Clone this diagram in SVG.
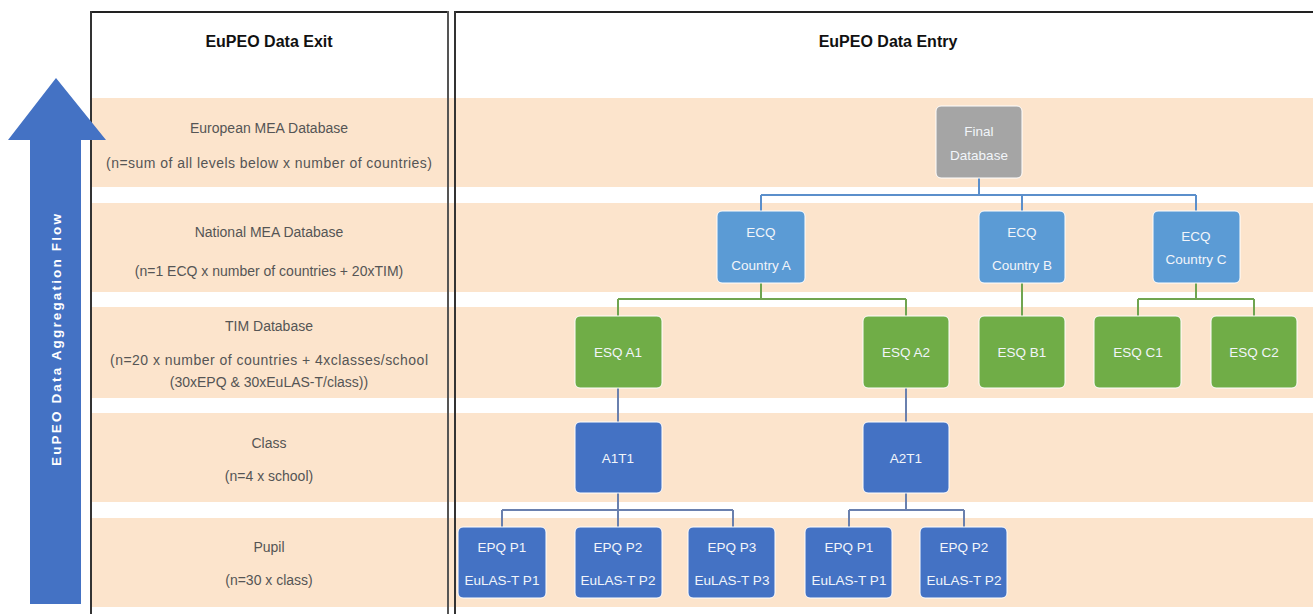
<svg xmlns="http://www.w3.org/2000/svg" width="1313" height="614" viewBox="0 0 1313 614">
<defs>
<style>
.band{fill:#FCE4CC}
.hdr{font-family:"Liberation Sans",Arial,sans-serif;font-size:16px;font-weight:bold;fill:#111;text-anchor:middle}
.lbl{font-family:"Liberation Sans",Arial,sans-serif;font-size:14px;fill:#555;text-anchor:middle}
.nt{font-family:"Liberation Sans",Arial,sans-serif;font-size:13.5px;fill:#F2F5FA;text-anchor:middle}
.gray{fill:#A5A5A5;stroke:#fff;stroke-width:1}
.lblue{fill:#5B9BD5;stroke:#fff;stroke-width:1}
.dblue{fill:#4472C4;stroke:#fff;stroke-width:1}
.green{fill:#70AD47;stroke:#fff;stroke-width:1}
.cb{fill:none;stroke:#5B8FCB;stroke-width:2}
.cg{fill:none;stroke:#70A550;stroke-width:2}
.cd{fill:none;stroke:#6A80AE;stroke-width:2}
</style>
</defs>
<rect x="0" y="0" width="1313" height="614" fill="#fff"/>
<g id="bands">
<rect class="band" x="91" y="98" width="1222" height="89"/>
<rect class="band" x="91" y="203" width="1222" height="89"/>
<rect class="band" x="91" y="307" width="1222" height="91"/>
<rect class="band" x="91" y="413" width="1222" height="89"/>
<rect class="band" x="91" y="518" width="1222" height="89"/>
</g>
<g id="table-lines">
<line x1="91" y1="12" x2="448" y2="12" stroke="#222" stroke-width="2"/>
<line x1="455" y1="12" x2="1313" y2="12" stroke="#222" stroke-width="2"/>
<line x1="91" y1="11" x2="91" y2="614" stroke="#333" stroke-width="2"/>
<line x1="448" y1="11" x2="448" y2="614" stroke="#555" stroke-width="2"/>
<line x1="455" y1="11" x2="455" y2="614" stroke="#333" stroke-width="2"/>
</g>
<g id="arrow">
<polygon points="56,78 106,140 81,140 81,604 30,604 30,140 8,140" fill="#4472C4"/>
<text x="0" y="0" transform="translate(61,340) rotate(-90)" font-family="Liberation Sans,Arial,sans-serif" font-size="13.5" font-weight="bold" fill="#fff" text-anchor="middle" textLength="252" lengthAdjust="spacing">EuPEO Data Aggregation Flow</text>
</g>
<g id="headers">
<text class="hdr" x="269" y="47">EuPEO Data Exit</text>
<text class="hdr" x="888" y="47">EuPEO Data Entry</text>
</g>
<g id="levels">
<text class="lbl" x="269" y="133">European MEA Database</text>
<text class="lbl" x="269" y="168" textLength="326" lengthAdjust="spacing">(n=sum of all levels below x number of countries)</text>
<text class="lbl" x="269" y="237">National MEA Database</text>
<text class="lbl" x="269" y="276">(n=1 ECQ x number of countries + 20xTIM)</text>
<text class="lbl" x="269" y="331">TIM Database</text>
<text class="lbl" x="269" y="365" textLength="318" lengthAdjust="spacing">(n=20 x number of countries + 4xclasses/school</text>
<text class="lbl" x="269" y="387">(30xEPQ &amp; 30xEuLAS-T/class))</text>
<text class="lbl" x="269" y="448">Class</text>
<text class="lbl" x="269" y="481">(n=4 x school)</text>
<text class="lbl" x="269" y="552">Pupil</text>
<text class="lbl" x="269" y="585">(n=30 x class)</text>
</g>
<g id="connectors">
<path class="cb" d="M979,178 V195 M761,195 H1196 M761,195 V211 M1022,195 V211 M1196,195 V211"/>
<path class="cg" d="M761,283 V299 M618,299 H906 M618,299 V316 M906,299 V316 M1022,283 V316 M1196,283 V299 M1138,299 H1254 M1138,299 V316 M1254,299 V316"/>
<path class="cd" d="M618,388 V422 M906,388 V422"/>
<path class="cd" d="M618,493 V510 M502,510 H733 M502,510 V527 M618,510 V527 M733,510 V527 M906,493 V510 M849,510 H964 M849,510 V527 M964,510 V527"/>
</g>
<g id="final-db">
<rect class="gray" x="936" y="106" width="86" height="72" rx="5"/>
<text class="nt" x="979" y="136">Final</text>
<text class="nt" x="979" y="160">Database</text>
</g>
<g id="ecq-a">
<rect class="lblue" x="717" y="211" width="88" height="72" rx="5"/>
<text class="nt" x="761" y="237">ECQ</text>
<text class="nt" x="761" y="270">Country A</text>
</g>
<g id="ecq-b">
<rect class="lblue" x="979" y="211" width="86" height="72" rx="5"/>
<text class="nt" x="1022" y="237">ECQ</text>
<text class="nt" x="1022" y="270">Country B</text>
</g>
<g id="ecq-c">
<rect class="lblue" x="1153" y="211" width="87" height="72" rx="5"/>
<text class="nt" x="1196" y="241">ECQ</text>
<text class="nt" x="1196" y="264">Country C</text>
</g>
<g id="esq-a1">
<rect class="green" x="575" y="316" width="87" height="72" rx="5"/>
<text class="nt" x="618" y="357">ESQ A1</text>
</g>
<g id="esq-a2">
<rect class="green" x="863" y="316" width="86" height="72" rx="5"/>
<text class="nt" x="906" y="357">ESQ A2</text>
</g>
<g id="esq-b1">
<rect class="green" x="979" y="316" width="86" height="72" rx="5"/>
<text class="nt" x="1022" y="357">ESQ B1</text>
</g>
<g id="esq-c1">
<rect class="green" x="1094" y="316" width="87" height="72" rx="5"/>
<text class="nt" x="1138" y="357">ESQ C1</text>
</g>
<g id="esq-c2">
<rect class="green" x="1211" y="316" width="86" height="72" rx="5"/>
<text class="nt" x="1254" y="357">ESQ C2</text>
</g>
<g id="a1t1">
<rect class="dblue" x="575" y="422" width="87" height="71" rx="5"/>
<text class="nt" x="618" y="463">A1T1</text>
</g>
<g id="a2t1">
<rect class="dblue" x="863" y="422" width="86" height="71" rx="5"/>
<text class="nt" x="906" y="463">A2T1</text>
</g>
<g id="a1-p1">
<rect class="dblue" x="458" y="527" width="88" height="71" rx="5"/>
<text class="nt" x="502" y="552">EPQ P1</text>
<text class="nt" x="502" y="585">EuLAS-T P1</text>
</g>
<g id="a1-p2">
<rect class="dblue" x="575" y="527" width="87" height="71" rx="5"/>
<text class="nt" x="618" y="552">EPQ P2</text>
<text class="nt" x="618" y="585">EuLAS-T P2</text>
</g>
<g id="a1-p3">
<rect class="dblue" x="688" y="527" width="87" height="71" rx="5"/>
<text class="nt" x="732" y="552">EPQ P3</text>
<text class="nt" x="732" y="585">EuLAS-T P3</text>
</g>
<g id="a2-p1">
<rect class="dblue" x="805" y="527" width="87" height="71" rx="5"/>
<text class="nt" x="849" y="552">EPQ P1</text>
<text class="nt" x="849" y="585">EuLAS-T P1</text>
</g>
<g id="a2-p2">
<rect class="dblue" x="920" y="527" width="87" height="71" rx="5"/>
<text class="nt" x="964" y="552">EPQ P2</text>
<text class="nt" x="964" y="585">EuLAS-T P2</text>
</g>
</svg>
